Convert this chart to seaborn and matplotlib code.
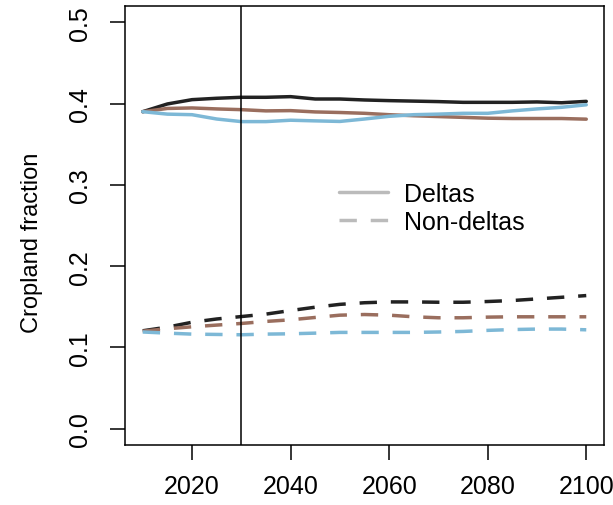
import numpy as np
import pandas as pd
import matplotlib
matplotlib.use("Agg")
import matplotlib.pyplot as plt
import seaborn as sns
from matplotlib.lines import Line2D

years = list(range(2010, 2101, 5))

deltas_black = [0.390, 0.3995, 0.4048, 0.4065, 0.4077, 0.4077, 0.4085, 0.4056, 0.4056, 0.4044,
                0.4036, 0.4030, 0.4024, 0.4015, 0.4015, 0.4015, 0.4020, 0.4010, 0.4027]
deltas_brown = [0.390, 0.3940, 0.3946, 0.3934, 0.3925, 0.3910, 0.3913, 0.3897, 0.3890, 0.3880,
                0.3863, 0.3850, 0.3840, 0.3830, 0.3820, 0.3816, 0.3816, 0.3816, 0.3808]
deltas_blue = [0.390, 0.3870, 0.3863, 0.3810, 0.3778, 0.3778, 0.3795, 0.3787, 0.3780, 0.3810,
               0.3843, 0.3863, 0.3870, 0.3880, 0.3880, 0.3910, 0.3934, 0.3954, 0.3985]

nondeltas_black = [0.1205, 0.1250, 0.1310, 0.1350, 0.1380, 0.1410, 0.1454, 0.1495, 0.1530, 0.1550,
                   0.1560, 0.1560, 0.1556, 0.1556, 0.1565, 0.1577, 0.1597, 0.1617, 0.1638]
nondeltas_brown = [0.1200, 0.1230, 0.1254, 0.1275, 0.1295, 0.1320, 0.1340, 0.1369, 0.1397, 0.1405,
                   0.1397, 0.1377, 0.1365, 0.1365, 0.1373, 0.1377, 0.1377, 0.1377, 0.1377]
nondeltas_blue = [0.1190, 0.1176, 0.1164, 0.1160, 0.1156, 0.1164, 0.1168, 0.1176, 0.1185, 0.1185,
                  0.1185, 0.1185, 0.1190, 0.1197, 0.1210, 0.1220, 0.1226, 0.1226, 0.1217]

groups = ["black", "brown", "blue"]
palette = {"black": "#222222", "brown": "#9a6e5e", "blue": "#7db8d6"}

rows = []
for kind, series in [("Deltas", [deltas_black, deltas_brown, deltas_blue]),
                     ("Non-deltas", [nondeltas_black, nondeltas_brown, nondeltas_blue])]:
    for g, vals in zip(groups, series):
        for yr, v in zip(years, vals):
            rows.append({"year": yr, "value": v, "group": g, "kind": kind})
df = pd.DataFrame(rows)

sns.set_style("white")
plt.rcParams["font.family"] = ["Liberation Sans", "DejaVu Sans"]
plt.rcParams["text.color"] = "black"
plt.rcParams["xtick.color"] = "black"
plt.rcParams["ytick.color"] = "black"
plt.rcParams["axes.labelcolor"] = "black"

fig = plt.figure(figsize=(6.13, 5.06), dpi=100)
ax = fig.add_axes([125 / 613, 60 / 506, 479 / 613, 439 / 506])

sns.lineplot(data=df, x="year", y="value", hue="group", style="kind",
             palette=palette, dashes={"Deltas": "", "Non-deltas": (5, 4)},
             linewidth=2.5, legend=False, ax=ax)
ax.axvline(2030, color="black", lw=1.1)

ax.set_xlim(2006.4, 2103.6)
ax.set_ylim(-0.02, 0.52)
ax.set_xticks([2020, 2040, 2060, 2080, 2100])
ax.set_yticks([0.0, 0.1, 0.2, 0.3, 0.4, 0.5])
ax.set_yticklabels(["0.0", "0.1", "0.2", "0.3", "0.4", "0.5"], rotation=90, va="center")
ax.tick_params(axis="both", direction="out", length=11, width=1.1, color="black",
               labelsize=18, bottom=True, left=True)
ax.tick_params(axis="x", pad=10)
ax.tick_params(axis="y", pad=13)
for s in ax.spines.values():
    s.set_color("black")
    s.set_linewidth(1.1)
ax.set_xlabel("")
ax.set_ylabel("Cropland fraction", fontsize=17)
ax.yaxis.set_label_coords(-0.172, 0.462)

handles = [Line2D([], [], color="#bbbbbb", lw=2.5),
           Line2D([], [], color="#bbbbbb", lw=2.5, dashes=(5, 4))]
ax.legend(handles, ["Deltas", "Non-deltas"], frameon=False, fontsize=18,
          loc="center left", bbox_to_anchor=(0.40, 0.54), handlelength=1.95,
          handletextpad=0.65, labelspacing=0.17)

fig.savefig("out.png", dpi=100)
